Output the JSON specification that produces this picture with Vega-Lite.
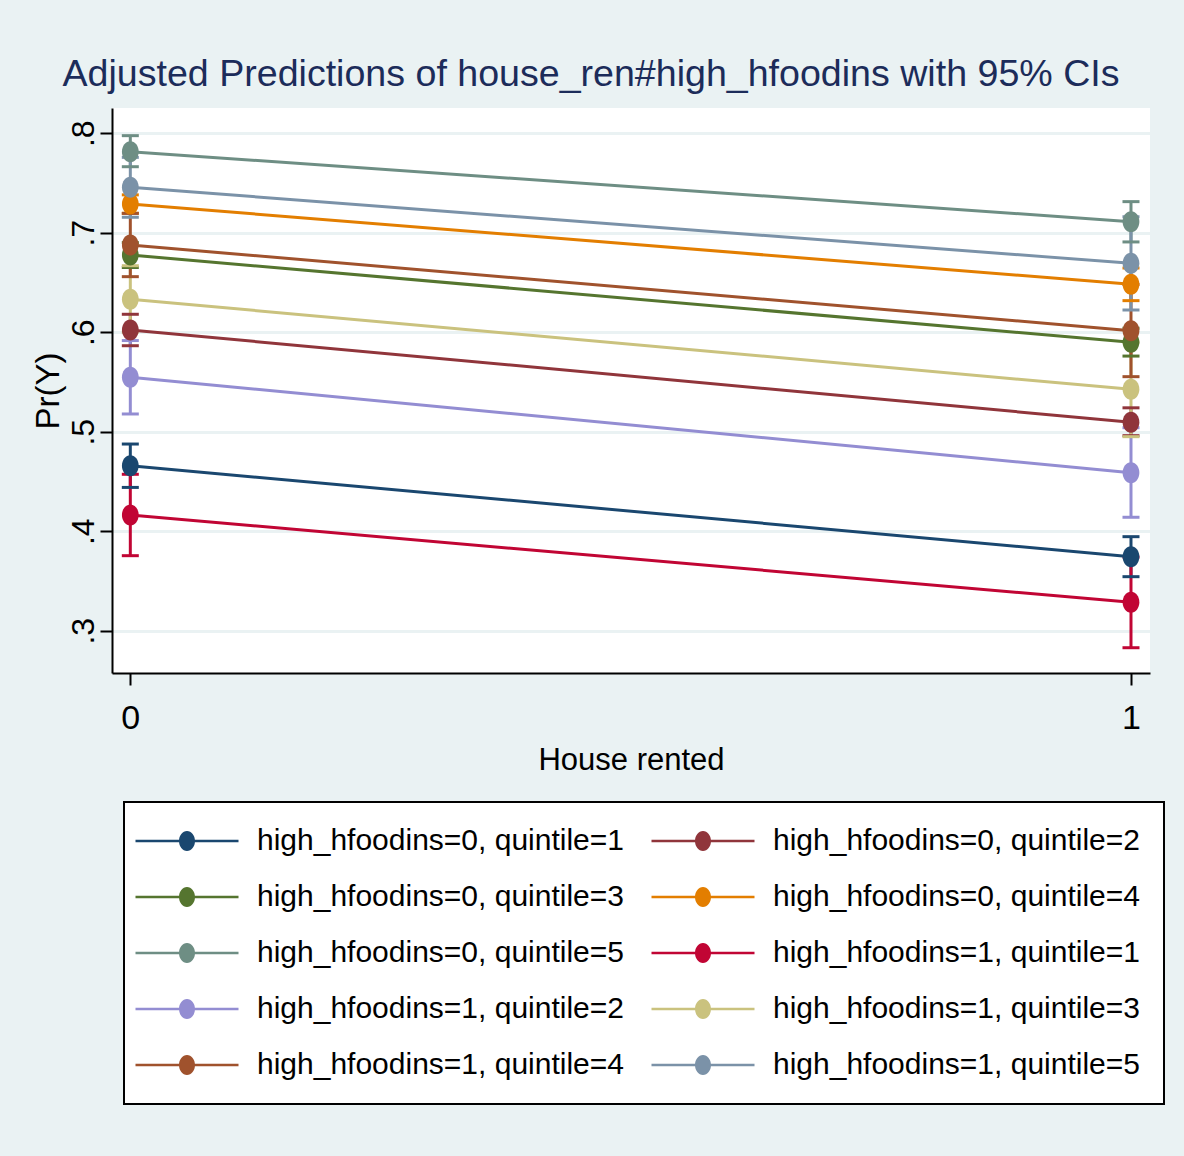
{
  "$schema": "https://vega.github.io/schema/vega-lite/v6.json",
  "width": 1038,
  "height": 565,
  "autosize": {"type": "none"},
  "padding": {"left": 112, "top": 108, "right": 34, "bottom": 483},
  "background": "#eaf2f3",
  "title": {
    "text": "Adjusted Predictions of house_ren#high_hfoodins with 95% CIs",
    "font": "Liberation Sans",
    "fontSize": 37.6,
    "fontWeight": "normal",
    "color": "#1c2c5a",
    "anchor": "middle",
    "frame": "group",
    "dx": -40,
    "offset": 14
  },
  "data": {
    "values": [
      {"g": "high_hfoodins=0, quintile=1", "x": 0, "p": 0.4658, "lo": 0.4440, "hi": 0.4876},
      {"g": "high_hfoodins=0, quintile=1", "x": 1, "p": 0.3744, "lo": 0.3543, "hi": 0.3945},
      {"g": "high_hfoodins=0, quintile=2", "x": 0, "p": 0.6022, "lo": 0.5864, "hi": 0.6180},
      {"g": "high_hfoodins=0, quintile=2", "x": 1, "p": 0.5095, "lo": 0.4960, "hi": 0.5240},
      {"g": "high_hfoodins=0, quintile=3", "x": 0, "p": 0.6776, "lo": 0.6650, "hi": 0.6900},
      {"g": "high_hfoodins=0, quintile=3", "x": 1, "p": 0.5898, "lo": 0.5760, "hi": 0.6040},
      {"g": "high_hfoodins=0, quintile=4", "x": 0, "p": 0.7288, "lo": 0.7195, "hi": 0.7380},
      {"g": "high_hfoodins=0, quintile=4", "x": 1, "p": 0.6481, "lo": 0.6317, "hi": 0.6645},
      {"g": "high_hfoodins=0, quintile=5", "x": 0, "p": 0.7814, "lo": 0.7663, "hi": 0.7975},
      {"g": "high_hfoodins=0, quintile=5", "x": 1, "p": 0.7111, "lo": 0.6907, "hi": 0.7312},
      {"g": "high_hfoodins=1, quintile=1", "x": 0, "p": 0.4163, "lo": 0.3754, "hi": 0.4572},
      {"g": "high_hfoodins=1, quintile=1", "x": 1, "p": 0.3285, "lo": 0.2829, "hi": 0.3740},
      {"g": "high_hfoodins=1, quintile=2", "x": 0, "p": 0.5547, "lo": 0.5178, "hi": 0.5916},
      {"g": "high_hfoodins=1, quintile=2", "x": 1, "p": 0.4588, "lo": 0.4140, "hi": 0.5040},
      {"g": "high_hfoodins=1, quintile=3", "x": 0, "p": 0.6331, "lo": 0.6000, "hi": 0.6668},
      {"g": "high_hfoodins=1, quintile=3", "x": 1, "p": 0.5426, "lo": 0.4950, "hi": 0.5900},
      {"g": "high_hfoodins=1, quintile=4", "x": 0, "p": 0.6876, "lo": 0.6558, "hi": 0.7194},
      {"g": "high_hfoodins=1, quintile=4", "x": 1, "p": 0.6015, "lo": 0.5553, "hi": 0.6480},
      {"g": "high_hfoodins=1, quintile=5", "x": 0, "p": 0.7456, "lo": 0.7155, "hi": 0.7757},
      {"g": "high_hfoodins=1, quintile=5", "x": 1, "p": 0.6692, "lo": 0.6223, "hi": 0.7160}
    ]
  },
  "encoding": {
    "x": {
      "field": "x",
      "type": "quantitative",
      "scale": {"domain": [-0.0183, 1.019], "nice": false, "zero": false},
      "axis": {
        "title": "House rented",
        "values": [0, 1],
        "format": "d",
        "grid": false,
        "domainColor": "black",
        "domainWidth": 2,
        "tickColor": "black",
        "tickWidth": 2,
        "tickSize": 12,
        "labelFont": "Liberation Sans",
        "labelFontSize": 34,
        "labelColor": "black",
        "labelPadding": 16,
        "labelFlush": false,
        "titleFont": "Liberation Sans",
        "titleFontSize": 31,
        "titleFontWeight": "normal",
        "titleColor": "black",
        "titlePadding": 10
      }
    },
    "color": {
      "field": "g",
      "type": "nominal",
      "scale": {
        "domain": [
          "high_hfoodins=0, quintile=1", "high_hfoodins=0, quintile=2",
          "high_hfoodins=0, quintile=3", "high_hfoodins=0, quintile=4",
          "high_hfoodins=0, quintile=5", "high_hfoodins=1, quintile=1",
          "high_hfoodins=1, quintile=2", "high_hfoodins=1, quintile=3",
          "high_hfoodins=1, quintile=4", "high_hfoodins=1, quintile=5"
        ],
        "range": ["#1a476f", "#90353b", "#55752f", "#e37e00", "#6e8e84", "#c10534", "#938dd2", "#cac27e", "#a0522d", "#7b92a8"]
      },
      "legend": {
        "title": null,
        "orient": "none",
        "legendX": 12,
        "legendY": 694,
        "columns": 2,
        "direction": "horizontal",
        "symbolType": "M-5.15,-0.13H5.15V0.13H-5.15Z M-0.8,0A0.8,1 0 1,1 0.8,0A0.8,1 0 1,1 -0.8,0Z",
        "symbolSize": 400,
        "symbolStrokeWidth": 0,
        "symbolOffset": 24,
        "labelOffset": 55,
        "labelFont": "Liberation Sans",
        "labelFontSize": 30,
        "labelColor": "black",
        "labelLimit": 0,
        "rowPadding": 26,
        "columnPadding": 27,
        "padding": 24,
        "fillColor": "white",
        "strokeColor": "black",
        "encode": {
          "legend": {"update": {"strokeWidth": {"value": 2}}},
          "symbols": {"update": {"fill": {"scale": "color", "field": "value"}, "opacity": {"value": 1}, "strokeWidth": {"value": 0}}}
        }
      }
    }
  },
  "layer": [
    {
      "mark": {"type": "rule", "strokeWidth": 3},
      "encoding": {
        "y": {"field": "lo", "type": "quantitative"},
        "y2": {"field": "hi"}
      }
    },
    {
      "mark": {"type": "tick", "orient": "horizontal", "size": 17, "thickness": 3, "opacity": 1},
      "encoding": {"y": {"field": "lo", "type": "quantitative"}}
    },
    {
      "mark": {"type": "tick", "orient": "horizontal", "size": 17, "thickness": 3, "opacity": 1},
      "encoding": {"y": {"field": "hi", "type": "quantitative"}}
    },
    {
      "mark": {"type": "line", "strokeWidth": 3},
      "encoding": {
        "y": {
          "field": "p",
          "type": "quantitative",
          "scale": {"domain": [0.2575, 0.8253], "nice": false, "zero": false},
          "axis": {
            "title": "Pr(Y)",
            "values": [0.3, 0.4, 0.5, 0.6, 0.7, 0.8],
            "labelExpr": "substring(format(datum.value, '.1f'), 1)",
            "labelAngle": 270,
            "labelAlign": "center",
            "labelBaseline": "alphabetic",
            "labelFont": "Liberation Sans",
            "labelFontSize": 32,
            "labelColor": "black",
            "labelPadding": 7,
            "tickSize": 12,
            "tickWidth": 2,
            "tickColor": "black",
            "domainColor": "black",
            "domainWidth": 2,
            "grid": true,
            "gridColor": "#eaf2f3",
            "gridWidth": 3,
            "titleFont": "Liberation Sans",
            "titleFontSize": 33,
            "titleFontWeight": "normal",
            "titleColor": "black",
            "titlePadding": 2
          }
        },
        "detail": {"field": "g"}
      }
    },
    {
      "mark": {"type": "point", "filled": true, "opacity": 1, "shape": "M-0.8,0A0.8,1 0 1,1 0.8,0A0.8,1 0 1,1 -0.8,0Z", "size": 440, "strokeWidth": 0},
      "encoding": {"y": {"field": "p", "type": "quantitative"}}
    }
  ],
  "config": {
    "view": {"fill": "white", "stroke": null},
    "axis": {"labelFontWeight": "normal"}
  }
}
